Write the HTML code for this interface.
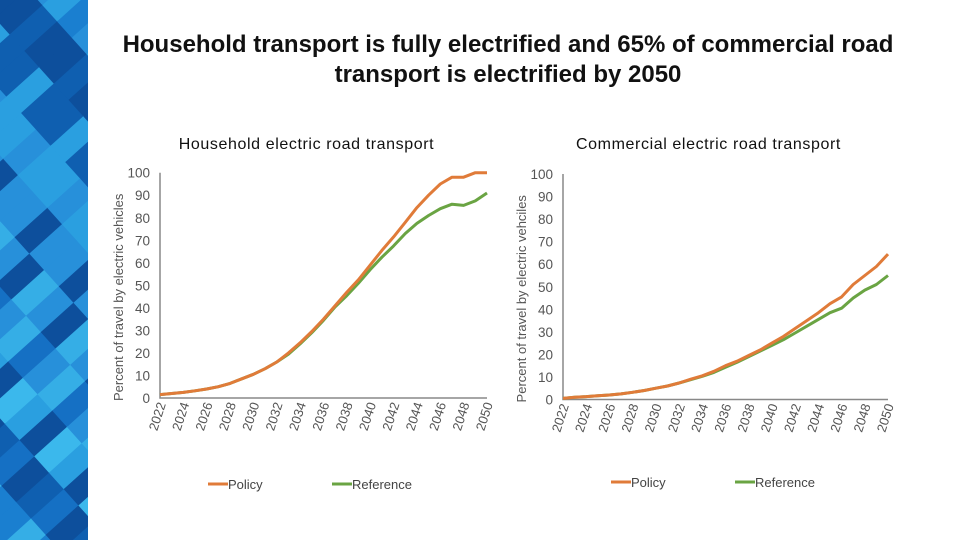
<!DOCTYPE html>
<html><head><meta charset="utf-8"><style>
html,body{margin:0;width:960px;height:540px;overflow:hidden;background:#fff;font-family:"Liberation Sans",sans-serif}
svg{display:block}
</style></head><body>
<svg id="s" width="960" height="540" xmlns="http://www.w3.org/2000/svg">
<defs><clipPath id="cl"><rect x="0" y="0" width="88" height="540"/></clipPath></defs>
<g clip-path="url(#cl)"><rect x="0" y="0" width="88" height="540" fill="#1a7fd0"/><g id="mosaic" transform="translate(44,270) rotate(-42)"></g></g>
<text x="508" y="52" text-anchor="middle" font-size="24" font-weight="bold" fill="#111">Household transport is fully electrified and 65% of commercial road</text>
<text x="508" y="82" text-anchor="middle" font-size="24" font-weight="bold" fill="#111">transport is electrified by 2050</text>
<g id="c1"></g><g id="c2"></g>
</svg>
<script>
const years=[];for(let y=2022;y<=2050;y++)years.push(y);
const yTicks=[0,10,20,30,40,50,60,70,80,90,100];
const hhPolicy=[1.5,2,2.5,3.2,4,5,6.5,8.5,10.5,13,16,20,24.5,29.5,35,41,47,52.5,59,65.5,71.5,78,84.5,90,95,98,98,100,100];
const hhReference=[1.5,2,2.5,3.2,4,5,6.5,8.5,10.5,13,16,19.5,24,29,34.5,40.5,45.5,51,57,62.5,67.5,73,77.5,81,84,86,85.5,87.5,91];
const comPolicy=[0.5,1,1.3,1.7,2,2.5,3.2,4,5,6,7.3,9,10.5,12.5,15,17,19.5,22,25,28,31.5,35,38.5,42.5,45.5,51,55,59,64.5];
const comReference=[0.5,1,1.3,1.7,2,2.5,3.2,4,5,6,7.3,8.8,10.3,12,14.3,16.5,19,21.5,24,26.5,29.5,32.5,35.5,38.5,40.5,45,48.5,51,55];
const NS="http://www.w3.org/2000/svg";
function el(p,t,a,txt){const e=document.createElementNS(NS,t);for(const k in a)e.setAttribute(k,a[k]);if(txt!==undefined)e.textContent=txt;p.appendChild(e);return e;}
const m=document.getElementById('mosaic');
const blues=['#0f5fb0','#1a7fd0','#2a9fe0','#3bb8ec','#1570c4','#0d4f9c','#2790da','#35aee6'];
let k=7;
for(let r=-16;r<16;r++){for(let c=-8;c<8;c++){k=(k*31+17)%97;
 const t=el(m,'rect',{x:c*44,y:r*22,width:45,height:23,fill:blues[k%blues.length]});
 
 
}}
function chart(g,x0,x1,y0,y1,title,ylab,pol,ref,legY,pfx){
 const X=i=>x0+(x1-x0)*(years[i]-2022)/28, Y=v=>y0-(y0-y1)*v/100;
 const t=el(g,'text',{x:(x0+x1)/2-17,y:149,'text-anchor':'middle','font-size':16,'letter-spacing':'0.6',fill:'#111'},title);
 
 const yl=el(g,'text',{transform:`translate(${x0-37},${(y0+y1)/2+12}) rotate(-90)`,'text-anchor':'middle','font-size':13,fill:'#555'},ylab);
 
 const ax=el(g,'path',{d:`M${x0},${Y(100)}V${y0}H${x1}`,stroke:'#888',fill:'none','stroke-width':1.5});
 
 yTicks.forEach(v=>{const tt=el(g,'text',{x:x0-10,y:Y(v)+5,'text-anchor':'end','font-size':13.5,fill:'#555'},v);
  });
 years.forEach((yr,i)=>{if(yr%2)return;const tt=el(g,'text',{transform:`translate(${X(i)+6},${y0+6}) rotate(-72)`,'text-anchor':'end','font-size':13,fill:'#555'},yr);
  });
 [[ref,'#6aa443','reference'],[pol,'#e07b39','policy']].forEach(([d,c,n])=>{
  const l=el(g,'path',{d:d.map((v,i)=>(i?'L':'M')+X(i).toFixed(1)+','+Y(v).toFixed(1)).join(''),stroke:c,fill:'none','stroke-width':3,'stroke-linejoin':'round'});
  });
 [['Policy','#e07b39',x0+48],['Reference','#6aa443',x0+172]].forEach(([n,c,lx])=>{
  const lg=el(g,'g',{});
  el(lg,'line',{x1:lx,x2:lx+20,y1:legY-5,y2:legY-5,stroke:c,'stroke-width':3});
  el(lg,'text',{x:lx+20,y:legY,'font-size':13,fill:'#444'},n);});
}
chart(document.getElementById('c1'),160,487,398,172.7,'Household electric road transport','Percent of travel by electric vehicles',hhPolicy,hhReference,489,'household');
chart(document.getElementById('c2'),563,888,399.5,174,'Commercial electric road transport','Percent of travel by electric vehciles',comPolicy,comReference,487,'commercial');
</script>
</body></html>
